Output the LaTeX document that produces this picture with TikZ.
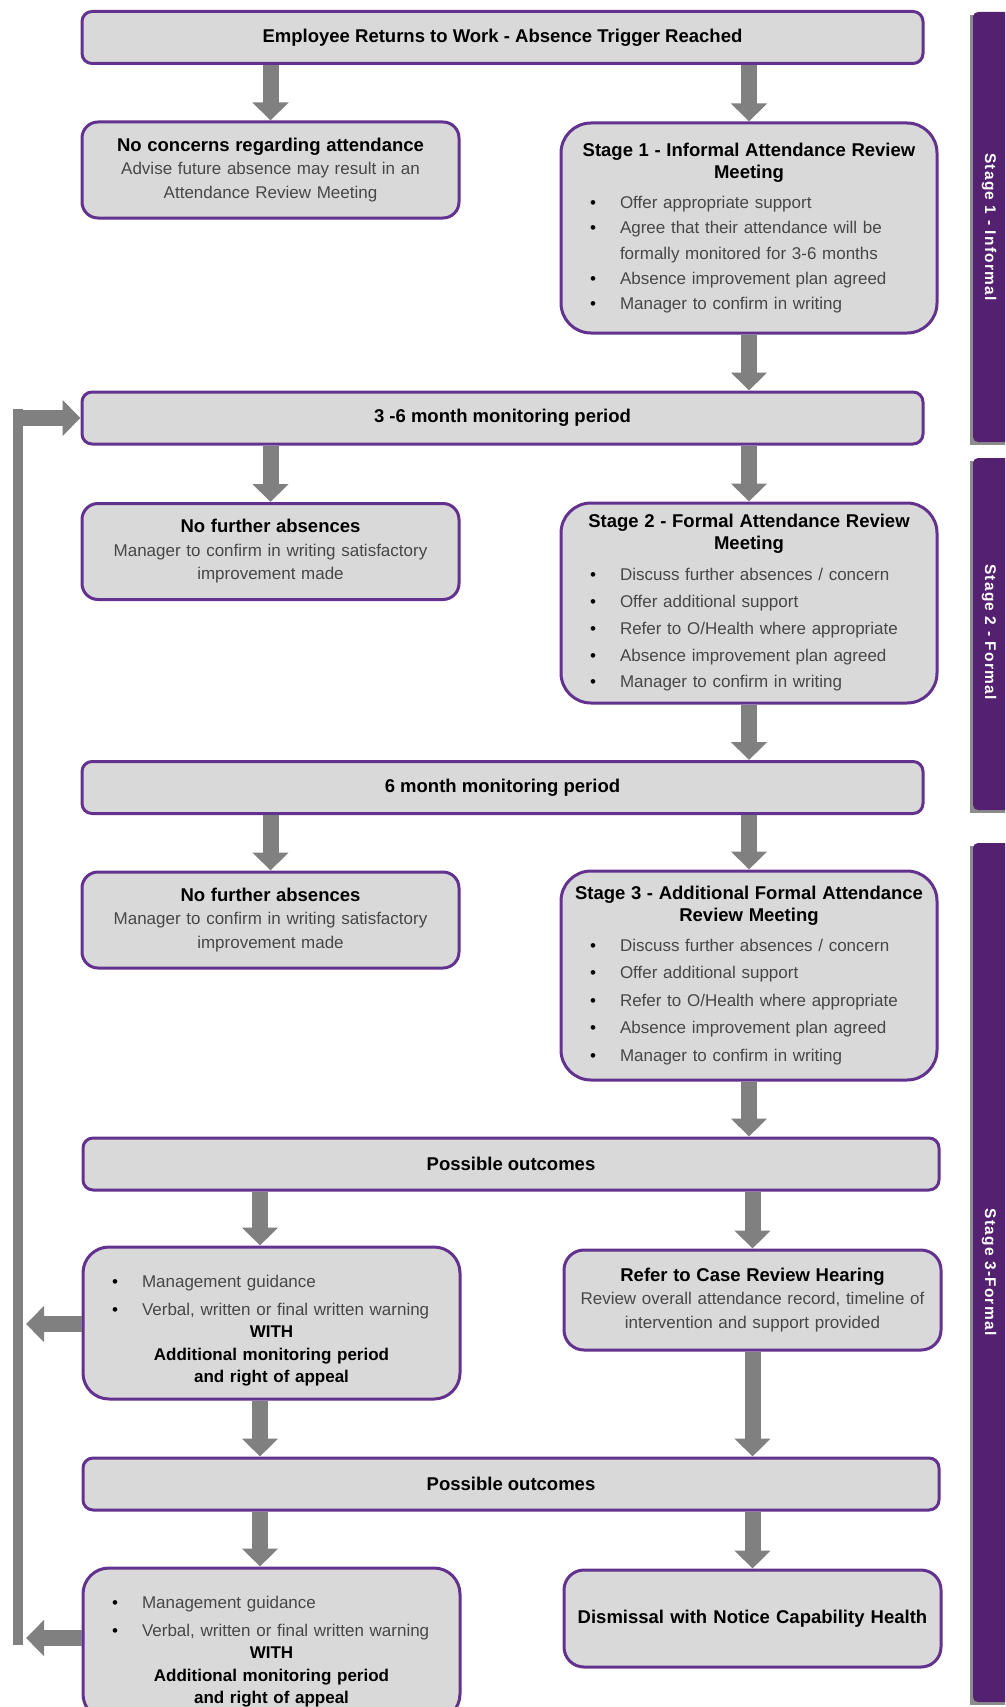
\documentclass[tikz,border=0pt]{standalone}
\usepackage{fontspec}
\setmainfont{Liberation Sans}
\newfontfamily\barfont[LetterSpace=8]{Liberation Sans}
\usetikzlibrary{arrows.meta}

\definecolor{boxgray}{RGB}{217,217,217}
\definecolor{boxpurple}{RGB}{98,50,142}
\definecolor{barpurple}{RGB}{84,33,112}
\definecolor{arrowgray}{RGB}{128,128,128}

\newcommand\headfont{\fontsize{18.5}{22}\selectfont\bfseries\color{black}}
\newcommand\bodyfont{\fontsize{17}{23.5}\selectfont}
\newcommand\listfont[1][26.5]{\fontsize{17}{#1}\selectfont}
\newcommand\bitem[1]{\par\noindent\hspace*{19pt}\makebox[30pt][l]{\color{black}\textbullet}#1}
\newcommand\bcont[1]{\par\noindent\hspace*{49pt}#1}

\begin{document}
\begin{tikzpicture}
  [x=1pt, y=-1pt,
   box/.style={draw=boxpurple, line width=3pt, fill=boxgray, align=center,
     inner xsep=10pt, inner ysep=0pt, text=black!72, font=\bodyfont},
   wide/.style={box, rounded corners=10pt, minimum height=52pt, font=\headfont, text=black},
   small/.style={box, rounded corners=16pt, text width=357pt, minimum height=96pt},
   stagebox/.style={box, rounded corners=30pt, text width=356pt},
   outcome/.style={box, rounded corners=26pt, text width=357pt, minimum height=152pt},
   flow/.style={draw=arrowgray, line width=16pt, -{Triangle[width=35pt, length=18pt]}},
   barlabel/.style={rotate=-90, text=white, font=\barfont\bfseries\fontsize{15.5}{15.5}\selectfont}]
  \useasboundingbox (0,0) rectangle (1005,1707);
  \clip (0,0) rectangle (1005,1707);

  % stage bars on the right
  \fill[black!45] (970,15) rectangle (1012,445);
  \fill[barpurple, rounded corners=5pt] (973,12) rectangle (1015,442);
  \node[barlabel] (side1) at (989,227) {Stage 1 - Informal};
  \fill[black!45] (970,461) rectangle (1012,813);
  \fill[barpurple, rounded corners=5pt] (973,458) rectangle (1015,810);
  \node[barlabel] (side2) at (989,632) {Stage 2 - Formal};
  \fill[black!45] (970,846) rectangle (1012,1705);
  \fill[barpurple, rounded corners=5pt] (973,843) rectangle (1015,1702);
  \node[barlabel] (side3) at (989,1272) {Stage 3-Formal};

  \node[wide, minimum width=841pt] (top) at (502.5,37.5)
    {Employee Returns to Work - Absence Trigger Reached};

  \node[small] (nc) at (270.5,170)
    {{\headfont No concerns regarding attendance}\\
     Advise future absence may result in an\\
     Attendance Review Meeting};

  \node[stagebox, minimum height=210pt] (st1) at (749,228) {%
    {\headfont Stage 1 - Informal Attendance Review\\ Meeting\par}
    \vspace{5pt}
    {\raggedright\listfont[25.3]
     \bitem{Offer appropriate support}
     \bitem{Agree that their attendance will be}
     \bcont{formally monitored for 3-6 months}
     \bitem{Absence improvement plan agreed}
     \bitem{Manager to confirm in writing}\par}};

  \node[wide, minimum width=841pt] (mon1) at (502.5,418) {3 -6 month monitoring period};

  \node[small] (nf1) at (270.5,551.5)
    {{\headfont No further absences}\\
     Manager to confirm in writing satisfactory\\
     improvement made};

  \node[stagebox, minimum height=200pt] (st2) at (749,603) {%
    {\headfont Stage 2 - Formal Attendance Review\\ Meeting\par}
    \vspace{4pt}
    {\raggedright\listfont[26.8]
     \bitem{Discuss further absences / concern}
     \bitem{Offer additional support}
     \bitem{Refer to O/Health where appropriate}
     \bitem{Absence improvement plan agreed}
     \bitem{Manager to confirm in writing}\par}};

  \node[wide, minimum width=841pt] (mon2) at (502.5,787.5) {6 month monitoring period};

  \node[small] (nf2) at (270.5,920)
    {{\headfont No further absences}\\
     Manager to confirm in writing satisfactory\\
     improvement made};

  \node[stagebox, minimum height=209pt] (st3) at (749,975.5) {%
    {\headfont Stage 3 - Additional Formal Attendance\\ Review Meeting\par}
    \vspace{2pt}
    {\raggedright\listfont[27.5]
     \bitem{Discuss further absences / concern}
     \bitem{Offer additional support}
     \bitem{Refer to O/Health where appropriate}
     \bitem{Absence improvement plan agreed}
     \bitem{Manager to confirm in writing}\par}};

  \node[wide, minimum width=856pt] (po1) at (511,1164) {Possible outcomes};

  \node[outcome] (lo1) at (271.5,1323) {%
    {\raggedright\listfont[28]
     \bitem{Management guidance}
     \bitem{Verbal, written or final written warning}\par}
    {\fontsize{17}{22.5}\selectfont\bfseries\color{black}
     WITH\\ Additional monitoring period\\ and right of appeal\par}};

  \node[box, rounded corners=20pt, text width=357pt, minimum height=100pt] (cr) at (752.5,1300)
    {{\headfont Refer to Case Review Hearing}\\
     Review overall attendance record, timeline of\\
     intervention and support provided};

  \node[wide, minimum width=856pt] (po2) at (511,1484) {Possible outcomes};

  \node[outcome] (lo2) at (271.5,1644) {%
    {\raggedright\listfont[28]
     \bitem{Management guidance}
     \bitem{Verbal, written or final written warning}\par}
    {\fontsize{17}{22.5}\selectfont\bfseries\color{black}
     WITH\\ Additional monitoring period\\ and right of appeal\par}};

  \node[box, rounded corners=20pt, text width=357pt, minimum height=97pt, font=\headfont, text=black] (dis)
    at (752.5,1618.5) {Dismissal with Notice Capability Health};

  % arrows down the chart
  \coordinate (lx) at (260,0);
  \draw[flow] (top.south -| nc.north) -- (nc.north);
  \draw[flow] (top.south -| st1.north) -- (st1.north);
  \draw[flow] (st1.south) -- (mon1.north -| st1.south);
  \draw[flow] (mon1.south -| nf1.north) -- (nf1.north);
  \draw[flow] (mon1.south -| st2.north) -- (st2.north);
  \draw[flow] (st2.south) -- (mon2.north -| st2.south);
  \draw[flow] (mon2.south -| nf2.north) -- (nf2.north);
  \draw[flow] (mon2.south -| st3.north) -- (st3.north);
  \draw[flow] (st3.south) -- (po1.north -| st3.south);
  \draw[flow] (po1.south -| lx) -- (lo1.north -| lx);
  \draw[flow] (po1.south -| cr.north) -- (cr.north);
  \draw[flow] (lo1.south -| lx) -- (po2.north -| lx);
  \draw[flow] (cr.south) -- (po2.north -| cr.south);
  \draw[flow] (po2.south -| lx) -- (lo2.north -| lx);
  \draw[flow] (po2.south -| dis.north) -- (dis.north);

  % loop back to the monitoring period
  \coordinate (bartop) at (18,409);
  \coordinate (barbot) at (18,1645);
  \coordinate (fbin) at (23,418);
  \coordinate (fb1) at (26,1324);
  \coordinate (fb2) at (26,1638);
  \draw[arrowgray, line width=10pt] (bartop) -- (barbot);
  \draw[flow] (fbin) -- (fbin -| mon1.west);
  \draw[flow] (lo1.west |- fb1) -- (fb1);
  \draw[flow] (lo2.west |- fb2) -- (fb2);
\end{tikzpicture}
\end{document}
